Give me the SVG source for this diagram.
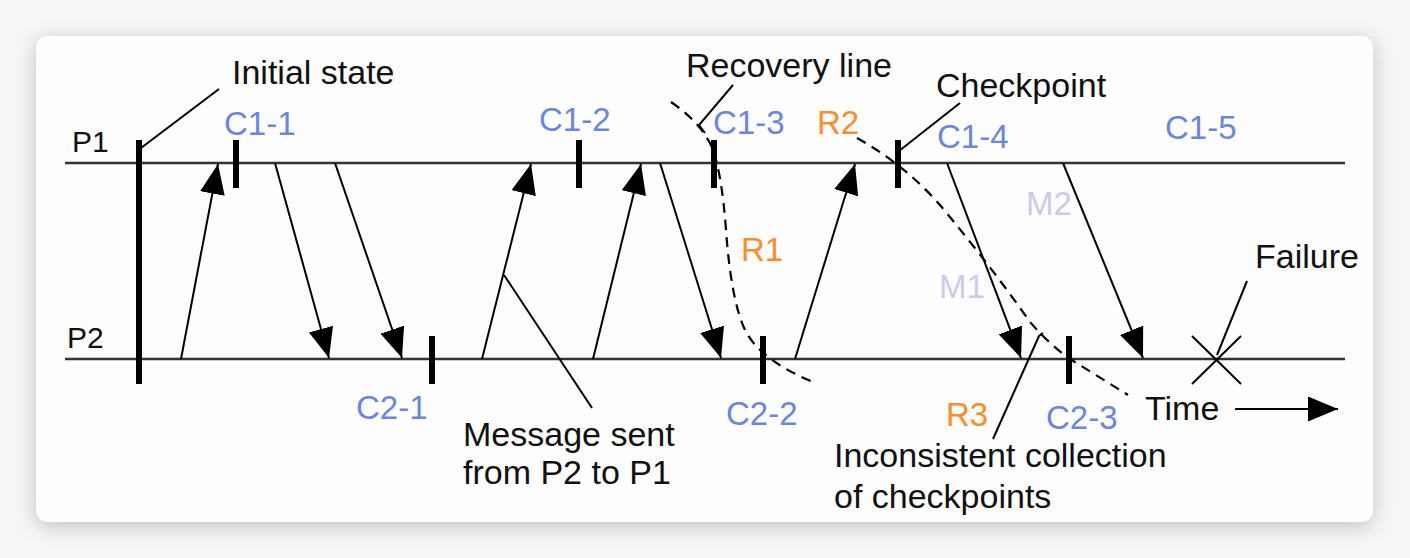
<svg xmlns="http://www.w3.org/2000/svg" width="1410" height="558" viewBox="0 0 1410 558">
<style>
text{font-family:"Liberation Sans",Arial,sans-serif;}
.t{font-size:34px;fill:#111;}
.p{font-size:30px;fill:#111;}
.c{font-size:33px;fill:#6886e2;}
.r{font-size:33px;fill:#ff8a2a;}
.m{font-size:33px;fill:#cacaec;}
.tl{stroke:#333;stroke-width:2.5;fill:none;}
.tick{stroke:#000;stroke-width:6;fill:none;}
.msg{stroke:#000;stroke-width:2;fill:none;marker-end:url(#ah);}
.ld{stroke:#000;stroke-width:2;fill:none;}
.dash{stroke:#000;stroke-width:2.2;fill:none;stroke-dasharray:10 7;}
</style>
<defs>
<marker id="ah" viewBox="0 0 30 25" markerWidth="30" markerHeight="25" refX="30" refY="12.5" orient="auto" markerUnits="userSpaceOnUse">
<path d="M0,0 L30,12.5 L0,25 z" fill="#000"/>
</marker>
<filter id="sh" x="-5%" y="-10%" width="110%" height="120%">
<feDropShadow dx="0" dy="4" stdDeviation="10" flood-color="#000" flood-opacity="0.22"/>
</filter>
</defs>
<rect x="0" y="0" width="1410" height="558" fill="#f6f6f6"/>
<rect x="36" y="36" width="1337" height="486" rx="12" fill="#fdfdfe" filter="url(#sh)"/>

<g id="P1">
<line class="tl" x1="65" y1="163" x2="1345" y2="163"/>
<text class="p" x="72" y="152">P1</text>
</g>
<g id="P2">
<line class="tl" x1="65" y1="359" x2="1345" y2="359"/>
<text class="p" x="67" y="348">P2</text>
</g>

<g id="initial-state">
<line stroke="#000" stroke-width="6" x1="139" y1="140" x2="139" y2="384"/>
<line class="ld" x1="141" y1="148" x2="219" y2="89"/>
<text class="t" x="232" y="84">Initial state</text>
</g>

<g id="C1-1"><line class="tick" x1="236" y1="140" x2="236" y2="188"/><text class="c" x="224" y="135">C1-1</text></g>
<g id="C1-2"><line class="tick" x1="579" y1="140" x2="579" y2="188"/><text class="c" x="539" y="131">C1-2</text></g>
<g id="C1-3"><line class="tick" x1="714" y1="140" x2="714" y2="188"/><text class="c" x="713" y="134">C1-3</text></g>
<g id="C1-4"><line class="tick" x1="898" y1="140" x2="898" y2="188"/><text class="c" x="937" y="148">C1-4</text></g>
<g id="C1-5"><text class="c" x="1165" y="139">C1-5</text></g>
<g id="C2-1"><line class="tick" x1="432" y1="336" x2="432" y2="384"/><text class="c" x="356" y="419">C2-1</text></g>
<g id="C2-2"><line class="tick" x1="763" y1="336" x2="763" y2="384"/><text class="c" x="726" y="425">C2-2</text></g>
<g id="C2-3"><line class="tick" x1="1069" y1="336" x2="1069" y2="384"/><text class="c" x="1046" y="429">C2-3</text></g>

<g id="recovery-line">
<path class="dash" d="M671,102 Q703,124 713,150 Q722,176 726,230 Q731,300 745,330 Q760,360 813,382"/>
<path class="ld" d="M733,85 L699,125 L705,133"/>
<text class="t" x="686" y="77">Recovery line</text>
</g>

<g id="inconsistent-line">
<path class="dash" d="M857,138 Q905,165 940,205 Q990,265 1030,322 Q1050,345 1070,359 L1128,395"/>
<path class="ld" d="M993,439 L1039,336 L1043,333"/>
<text class="t" x="834" y="467">Inconsistent collection</text>
<text class="t" x="834" y="508">of checkpoints</text>
</g>

<g id="labels-R">
<text class="r" x="741" y="261">R1</text>
<text class="r" x="817" y="134">R2</text>
<text class="r" x="946" y="426">R3</text>
</g>
<g id="labels-M">
<text class="m" x="939" y="298">M1</text>
<text class="m" x="1026" y="215">M2</text>
</g>

<g id="checkpoint-note">
<line class="ld" x1="960" y1="103" x2="899" y2="151"/>
<text class="t" x="936" y="97">Checkpoint</text>
</g>

<g id="message-note">
<line class="ld" x1="504" y1="275" x2="592" y2="408"/>
<text class="t" x="463" y="446">Message sent</text>
<text class="t" x="463" y="484">from P2 to P1</text>
</g>

<g id="failure">
<line class="ld" x1="1192" y1="336" x2="1241" y2="384"/>
<line class="ld" x1="1241" y1="336" x2="1192" y2="384"/>
<line class="ld" x1="1247" y1="281" x2="1217" y2="355"/>
<text class="t" x="1255" y="268">Failure</text>
</g>

<g id="time">
<text class="t" x="1145" y="420">Time</text>
<line class="msg" x1="1235" y1="409" x2="1338" y2="409"/>
</g>

<g id="connectors">
<line class="msg" x1="181" y1="359" x2="218" y2="164"/>
<line class="msg" x1="275" y1="163" x2="329" y2="358"/>
<line class="msg" x1="335" y1="163" x2="402" y2="358"/>
<line class="msg" x1="482" y1="359" x2="531" y2="164"/>
<line class="msg" x1="593" y1="359" x2="641" y2="164"/>
<line class="msg" x1="660" y1="163" x2="721" y2="358"/>
<line class="msg" x1="795" y1="359" x2="855" y2="164"/>
<line class="msg" x1="947" y1="163" x2="1021" y2="358"/>
<line class="msg" x1="1063" y1="163" x2="1143" y2="358"/>
</g>
</svg>
